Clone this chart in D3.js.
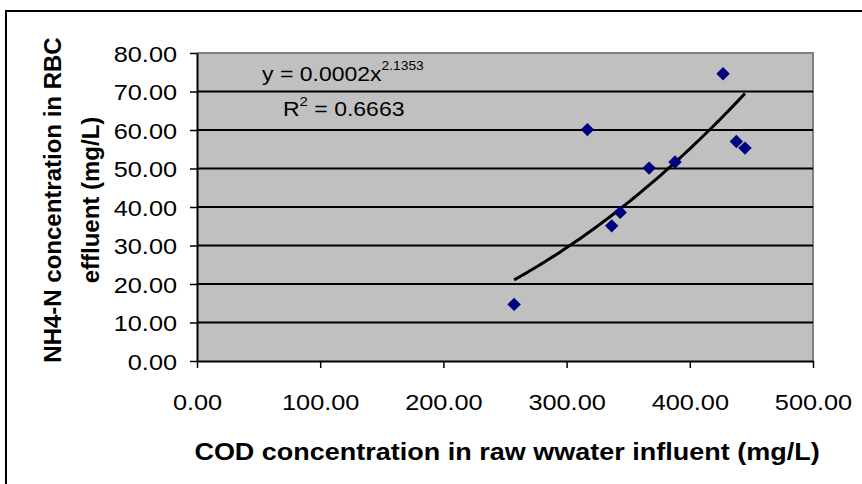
<!DOCTYPE html>
<html>
<head>
<meta charset="utf-8">
<script src="https://cdn.jsdelivr.net/npm/d3@7"></script>
<style>
  html, body { margin: 0; padding: 0; background: #fff; }
  svg { display: block; font-family: Arial, "Liberation Sans", sans-serif; }
</style>
</head>
<body>
<svg id="chart" width="862" height="484"></svg>
<script>
// ---- data ----
const codInfluent = [427.0, 316.9, 367.0, 388.0, 343.5, 336.6, 257.4, 437.8, 444.8];
const nh4Effluent = [74.6, 60.1, 50.1, 51.7, 38.6, 35.1, 14.7, 57.0, 55.3];
const xTicks = [0, 100, 200, 300, 400, 500];
const yTicks = [0, 10, 20, 30, 40, 50, 60, 70, 80];
const xTitle = "COD concentration in raw wwater influent (mg/L)";
const yTitleLines = ["NH4-N concentration in RBC", "effluent (mg/L)"];
const eqMain = "y = 0.0002x";
const eqExp = "2.1353";
const r2Label = ["R", "2", " = 0.6663"];

// ---- layout ----
const svg = d3.select("#chart");
const plot = { left: 197, right: 813, top: 53, bottom: 361 };
const SX = 1.15; // horizontal stretch of the text in the reference

const x = d3.scaleLinear().domain([0, 500]).range([plot.left, plot.right]);
const y = d3.scaleLinear().domain([0, 80]).range([plot.bottom, plot.top]);

// outer frame (right/bottom edges lie outside the picture)
svg.append("rect").attr("x", 6).attr("y", 11).attr("width", 900).attr("height", 500)
  .attr("fill", "#fff").attr("stroke", "#000").attr("stroke-width", 2);

// plot area
svg.append("rect").attr("x", plot.left).attr("y", plot.top)
  .attr("width", plot.right - plot.left).attr("height", plot.bottom - plot.top)
  .attr("fill", "#c0c0c0");
// gray border top & right
svg.append("path")
  .attr("d", `M${plot.left},${plot.top}H${plot.right}V${plot.bottom}`)
  .attr("fill", "none").attr("stroke", "#808080").attr("stroke-width", 2);

// gridlines
svg.append("g").selectAll("line").data(yTicks.filter(v => v > 0 && v < 80)).join("line")
  .attr("x1", plot.left).attr("x2", plot.right)
  .attr("y1", d => y(d)).attr("y2", d => y(d))
  .attr("stroke", "#000").attr("stroke-width", 2);

// axes
const yAxis = d3.axisLeft(y).tickValues(yTicks).tickSize(7).tickSizeOuter(0).tickFormat(d => d3.format(".2f")(d));
const gy = svg.append("g").attr("transform", `translate(${plot.left},0)`).call(yAxis);
gy.select(".domain").attr("stroke", "#000").attr("stroke-width", 2);
gy.selectAll(".tick line").attr("stroke", "#000").attr("stroke-width", 1.5);
gy.selectAll(".tick text").each(function() {
  const t = d3.select(this);
  t.attr("x", null).attr("dy", null).attr("fill", "#000")
   .style("font-size", "22px").attr("text-anchor", "end").attr("dominant-baseline", "central")
   .attr("transform", `translate(-20,1) scale(${SX},1)`);
});

const xAxis = d3.axisBottom(x).tickValues(xTicks).tickSize(7).tickSizeOuter(0).tickFormat(d => d3.format(".2f")(d));
const gx = svg.append("g").attr("transform", `translate(0,${plot.bottom})`).call(xAxis);
gx.select(".domain").attr("stroke", "#000").attr("stroke-width", 2);
gx.selectAll(".tick line").attr("stroke", "#000").attr("stroke-width", 1.5);
gx.selectAll(".tick text").each(function() {
  const t = d3.select(this);
  t.attr("y", null).attr("dy", null).attr("fill", "#000")
   .style("font-size", "22px").attr("text-anchor", "middle")
   .attr("transform", `translate(0,49) scale(${SX},1)`);
});

// axis titles
svg.append("text").attr("transform", `translate(507,460) scale(1.125,1)`)
  .attr("text-anchor", "middle").style("font-size", "24px").style("font-weight", "bold")
  .text(xTitle);

yTitleLines.forEach((line, i) => {
  svg.append("text")
    .attr("transform", `translate(${61 + i * 38},200) rotate(-90)`)
    .attr("text-anchor", "middle").style("font-size", "24px").style("font-weight", "bold")
    .text(line);
});

// power trendline (least squares in log space, as Excel does)
const lx = codInfluent.map(Math.log), ly = nh4Effluent.map(Math.log);
const mx = d3.mean(lx), my = d3.mean(ly);
const b = d3.sum(lx, (v, i) => (v - mx) * (ly[i] - my)) / d3.sum(lx, v => (v - mx) ** 2);
const a = Math.exp(my - b * mx);
const [xmin, xmax] = d3.extent(codInfluent);
const trendX = d3.range(0, 61).map(i => xmin + (xmax - xmin) * i / 60);
svg.append("path")
  .datum(trendX)
  .attr("d", d3.line().x(d => x(d)).y(d => y(a * Math.pow(d, b))))
  .attr("fill", "none").attr("stroke", "#000").attr("stroke-width", 3);

// markers
const pts = codInfluent.map((v, i) => ({ x: v, y: nh4Effluent[i] }));
svg.append("g").selectAll("path").data(pts).join("path")
  .attr("d", d3.symbol(d3.symbolSquare, 90)())
  .attr("transform", d => `translate(${x(d.x)},${y(d.y)}) rotate(45)`)
  .attr("fill", "#000080");

// equation labels
const eq = svg.append("text").attr("transform", `translate(262,81) scale(${SX},1)`)
  .style("font-size", "20px").attr("fill", "#000");
eq.append("tspan").text(eqMain);
eq.append("tspan").attr("dy", -11).style("font-size", "12px").text(eqExp);

const r2 = svg.append("text").attr("transform", `translate(283,116) scale(${SX},1)`)
  .style("font-size", "20px").attr("fill", "#000");
r2.append("tspan").text(r2Label[0]);
r2.append("tspan").attr("dy", -10).style("font-size", "13px").text(r2Label[1]);
r2.append("tspan").attr("dy", 10).text(r2Label[2]);
</script>
</body>
</html>
